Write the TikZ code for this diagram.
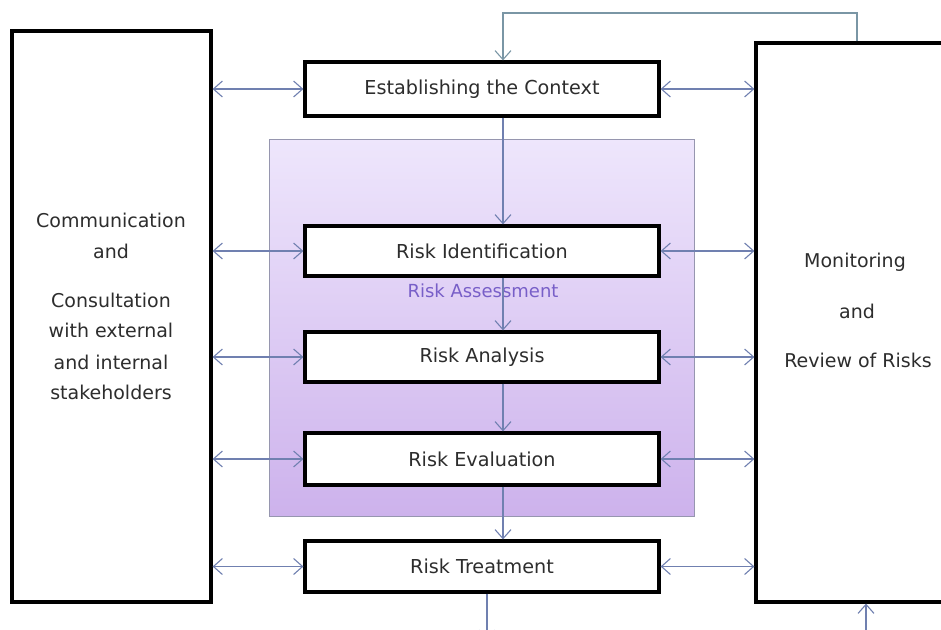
\documentclass[tikz,border=0pt]{standalone}
\usepackage{fontspec}
\setmainfont{DejaVu Sans}
\usetikzlibrary{arrows.meta,calc}
\definecolor{arrcol}{RGB}{112,128,176}
\definecolor{fbcol}{RGB}{122,150,165}
\definecolor{racol}{RGB}{120,95,200}
\definecolor{ptop}{RGB}{238,230,252}
\definecolor{pbot}{RGB}{205,178,236}
\definecolor{pborder}{RGB}{150,150,175}
\definecolor{txtcol}{RGB}{45,45,45}
\tikzset{
  x=1pt,y=-1pt,
  stepbox/.style={draw=black,line width=3.2pt,fill=white,minimum width=354pt,inner sep=0pt,text=txtcol,font=\fontsize{19.2}{23}\selectfont},
  bigbox/.style={draw=black,line width=3.2pt,fill=white,inner sep=0pt},
  arr/.style={draw=arrcol,line width=1.1pt,{Straight Barb[length=9pt,width=16pt]}-{Straight Barb[length=9pt,width=16pt]}},
  varr/.style={draw=arrcol,line width=1.1pt,-{Straight Barb[length=9pt,width=16pt]}},
  fb/.style={draw=fbcol,line width=1.1pt},
  sidetext/.style={font=\fontsize{19}{23}\selectfont,align=center,text=txtcol}
}
\begin{document}
\begin{tikzpicture}
\useasboundingbox (0,0) rectangle (941,629);
% risk assessment shaded region
\shade[top color=ptop,bottom color=pbot] (269,139) rectangle (694,516);
\draw[pborder,line width=0.8pt] (269,139) rectangle (694,516);
\node[font=\fontsize{18}{21}\selectfont,text=racol] (ralabel) at (483,291) {Risk Assessment};
% side boxes
\node[bigbox,minimum width=199pt,minimum height=571pt] (left) at (111.5,316.5) {};
\node[bigbox,minimum width=189pt,minimum height=559pt] (right) at (850.5,322.5) {};
\node[sidetext] (lt1) at (111,220) {Communication};
\node[sidetext] (lt2) at (111,251) {and};
\node[sidetext] (lt3) at (111,300) {Consultation};
\node[sidetext] (lt4) at (111,330) {with external};
\node[sidetext] (lt5) at (111,362) {and internal};
\node[sidetext] (lt6) at (111,392) {stakeholders};
\node[sidetext] (rt1) at (855,262) {Monitoring};
\node[sidetext] (rt2) at (857,311) {and};
\node[sidetext] (rt3) at (858,360) {Review of Risks};
% step boxes
\node[stepbox,minimum height=54pt] (est) at (482,89) {Establishing the Context};
\node[stepbox,minimum height=50pt] (ri) at (482,251) {Risk Identification};
\node[stepbox,minimum height=50pt] (ra) at (482,357) {Risk Analysis};
\node[stepbox,minimum height=52pt] (re) at (482,459) {Risk Evaluation};
\node[stepbox,minimum height=51pt] (rtr) at (482,566.5) {Risk Treatment};
% helper coordinates
\coordinate (vx) at (503,0);
\coordinate (fbtop) at (857,13);
\coordinate (botl) at (487,640);
\coordinate (botr) at (866,640);
% vertical flow
\draw[varr] (est.south -| vx) -- (ri.north -| vx);
\draw[varr] (ri.south -| vx) -- (ra.north -| vx);
\draw[varr] (ra.south -| vx) -- (re.north -| vx);
\draw[varr] (re.south -| vx) -- (rtr.north -| vx);
% horizontal double arrows
\foreach \n in {est,ri,ra,re,rtr}{
  \draw[arr] (left.east |- \n.west) -- (\n.west);
  \draw[arr] (\n.east) -- (right.west |- \n.east);
}
% feedback loop
\draw[fb,-{Straight Barb[length=9pt,width=16pt]}] (fbtop |- right.north) -- (fbtop) -| (est.north -| vx);
\draw[varr] (rtr.south -| botl) -- (botl);
\draw[varr] (botr) -- (right.south -| botr);
\end{tikzpicture}
\end{document}
